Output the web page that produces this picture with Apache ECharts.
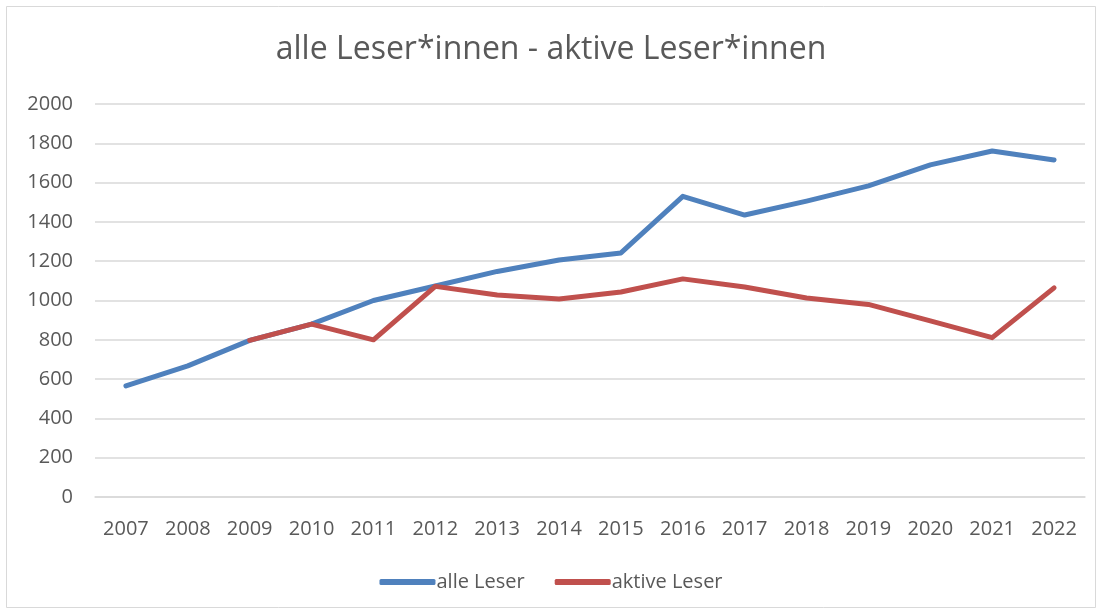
<!DOCTYPE html>
<html><head><meta charset="utf-8">
<script src="https://cdn.jsdelivr.net/npm/echarts@6/dist/echarts.min.js"></script>
<style>html,body{margin:0;padding:0;background:#fff}#c{width:1102px;height:614px}</style>
</head><body><div id="c"></div>
<script>
const titleText = 'alle Leser*innen - aktive Leser*innen';
const years = ['2007','2008','2009','2010','2011','2012','2013','2014','2015','2016','2017','2018','2019','2020','2021','2022'];
const alleLeser = [565, 667, 797, 880, 1000, 1074, 1148, 1206, 1242, 1530, 1435, 1506, 1583, 1690, 1761, 1715];
const aktiveLeser = [null, null, 797, 880, 800, 1072, 1028, 1008, 1043, 1110, 1069, 1013, 980, 896, 811, 1064];
const seriesNames = ['alle Leser', 'aktive Leser'];
const fontFam = '"Open Sans", "Noto Sans", sans-serif';
const chart = echarts.init(document.getElementById('c'));
chart.setOption({
  animation: false,
  backgroundColor: '#fff',
  graphic: [{type:'rect', shape:{x:6.5,y:6.5,width:1089,height:601}, style:{fill:'none', stroke:'#d9d9d9', lineWidth:1}}],
  title: {text: titleText, left: 'center', top: 29, textStyle:{fontFamily: fontFam, fontSize: 32, fontWeight: 'normal', color:'#595959'}},
  legend: {bottom: 17, left: 'center', itemWidth: 56, itemHeight: 6, itemGap: 30, icon: 'roundRect',
    textStyle:{fontFamily: fontFam, fontSize: 20, color:'#595959', padding:[0,0,0,-4]}, data: seriesNames},
  grid: {left: 95, right: 17, top: 104, bottom: 117},
  xAxis: {type:'category', data: years, boundaryGap: true,
    axisLine:{show:true, lineStyle:{color:'#d9d9d9', width:1.5}}, axisTick:{show:false},
    axisLabel:{fontFamily: fontFam, fontSize: 20, color:'#595959', margin: 22}},
  yAxis: {type:'value', min:0, max:2000, interval:200,
    axisLine:{show:false}, axisTick:{show:false},
    splitLine:{lineStyle:{color:'#d9d9d9', width:1.5}},
    axisLabel:{fontFamily: fontFam, fontSize: 20, color:'#595959', margin: 22, formatter: v => String(v)}},
  series: [
    {name: seriesNames[0], type:'line', data: alleLeser, symbol:'none', lineStyle:{color:'#4f81bd', width:5, cap:'round', join:'round'}, itemStyle:{color:'#4f81bd'}},
    {name: seriesNames[1], type:'line', data: aktiveLeser, symbol:'none', lineStyle:{color:'#c0504d', width:5, cap:'round', join:'round'}, itemStyle:{color:'#c0504d'}}
  ]
});
</script></body></html>
